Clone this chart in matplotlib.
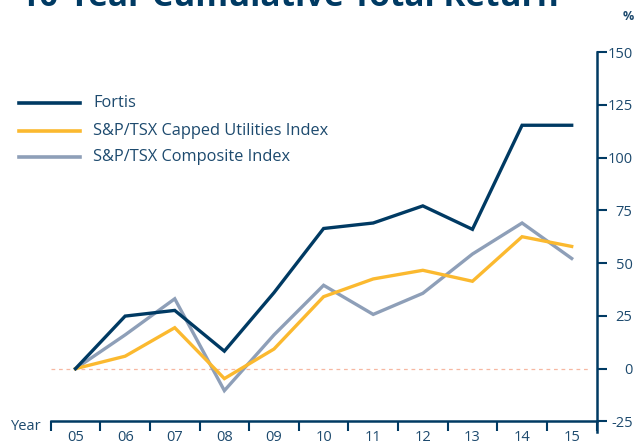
import matplotlib
matplotlib.use("Agg")
import matplotlib.pyplot as plt
from matplotlib.lines import Line2D
from matplotlib.ticker import FixedLocator, NullFormatter

years = ['05', '06', '07', '08', '09', '10', '11', '12', '13', '14', '15']
fortis = [0, 24.9, 27.6, 8.3, 36.0, 66.4, 69.0, 77.1, 66.0, 115.3, 115.3]
utilities = [0, 5.9, 19.4, -4.7, 9.3, 34.1, 42.5, 46.6, 41.4, 62.5, 57.9]
composite = [0, 16.0, 33.1, -10.4, 16.0, 39.5, 25.7, 35.7, 54.3, 69.0, 52.2]
series_names = ['Fortis', 'S&P/TSX Capped Utilities Index', 'S&P/TSX Composite Index']
yticks = [-25, 0, 25, 50, 75, 100, 125, 150]

NAVY = '#003a63'
TEXT = '#1d4a6e'
YELLOW = '#fbb92f'
GRAY = '#8e9fb8'
PINK = '#f7b8a2'

plt.rcParams['font.family'] = ['Open Sans', 'DejaVu Sans']

W, H = 635, 447
fig = plt.figure(figsize=(W / 100, H / 100), dpi=100)
ax = fig.add_axes([50.7 / W, (H - 432) / H, (596.5 - 50.7) / W, (432 - 52) / H])

x = list(range(len(years)))
ax.axhline(0, color=PINK, lw=0.9, ls=(0, (3, 3)), xmin=0.0, xmax=0.99, zorder=1)
ax.plot(x, composite, color=GRAY, lw=2.4, zorder=3, solid_joinstyle='miter')
ax.plot(x, utilities, color=YELLOW, lw=2.4, zorder=4, solid_joinstyle='miter')
ax.plot(x, fortis, color=NAVY, lw=2.4, zorder=5, solid_joinstyle='miter')

ax.set_xlim(-0.5, len(years) - 0.5)
ax.set_ylim(-30, 150)

for s in ['top', 'left']:
    ax.spines[s].set_visible(False)
ax.spines['bottom'].set_position(('data', -25))
ax.spines['bottom'].set_color(NAVY)
ax.spines['bottom'].set_linewidth(1.8)
ax.spines['right'].set_color(NAVY)
ax.spines['right'].set_linewidth(1.8)
ax.spines['right'].set_bounds(-30, 150)

ax.yaxis.tick_right()
ax.set_yticks(yticks)
ax.set_yticklabels([str(v) for v in yticks])
ax.tick_params(axis='y', direction='out', length=7, width=1.5, color=NAVY,
               labelcolor=TEXT, labelsize=10.5, pad=19)
for lab in ax.get_yticklabels():
    lab.set_horizontalalignment('right')

ax.set_xticks(x)
ax.set_xticklabels(years)
ax.xaxis.set_minor_locator(FixedLocator([i - 0.5 for i in range(len(years) + 1)]))
ax.xaxis.set_minor_formatter(NullFormatter())
ax.tick_params(axis='x', which='major', length=0, labelcolor=TEXT, labelsize=10.5, pad=6)
ax.tick_params(axis='x', which='minor', direction='out', length=7, width=1.5, color=NAVY)

# Title (partially cropped at top in the reference)
fig.text(20 / W, 1 - 6 / H, '10-Year Cumulative Total Return', fontsize=24, weight='bold',
         color=NAVY, va='baseline', ha='left')
fig.text(628 / W, 1 - 16 / H, '%', fontsize=9, weight='bold', color=TEXT, ha='center', va='center')
fig.text(42 / W, 1 - 426 / H, 'Year', fontsize=10.5, color=TEXT, ha='right', va='center')

# Legend
leg_y = [102.7, 130.7, 157]
leg_c = [NAVY, YELLOW, GRAY]
for name, yy, c in zip(series_names, leg_y, leg_c):
    fig.add_artist(Line2D([19 / W, 80 / W], [1 - yy / H] * 2, color=c, lw=2.6))
    fig.text(93 / W, 1 - yy / H, name, fontsize=11.8, color=TEXT, ha='left', va='center')

fig.savefig('out.png', dpi=100)
